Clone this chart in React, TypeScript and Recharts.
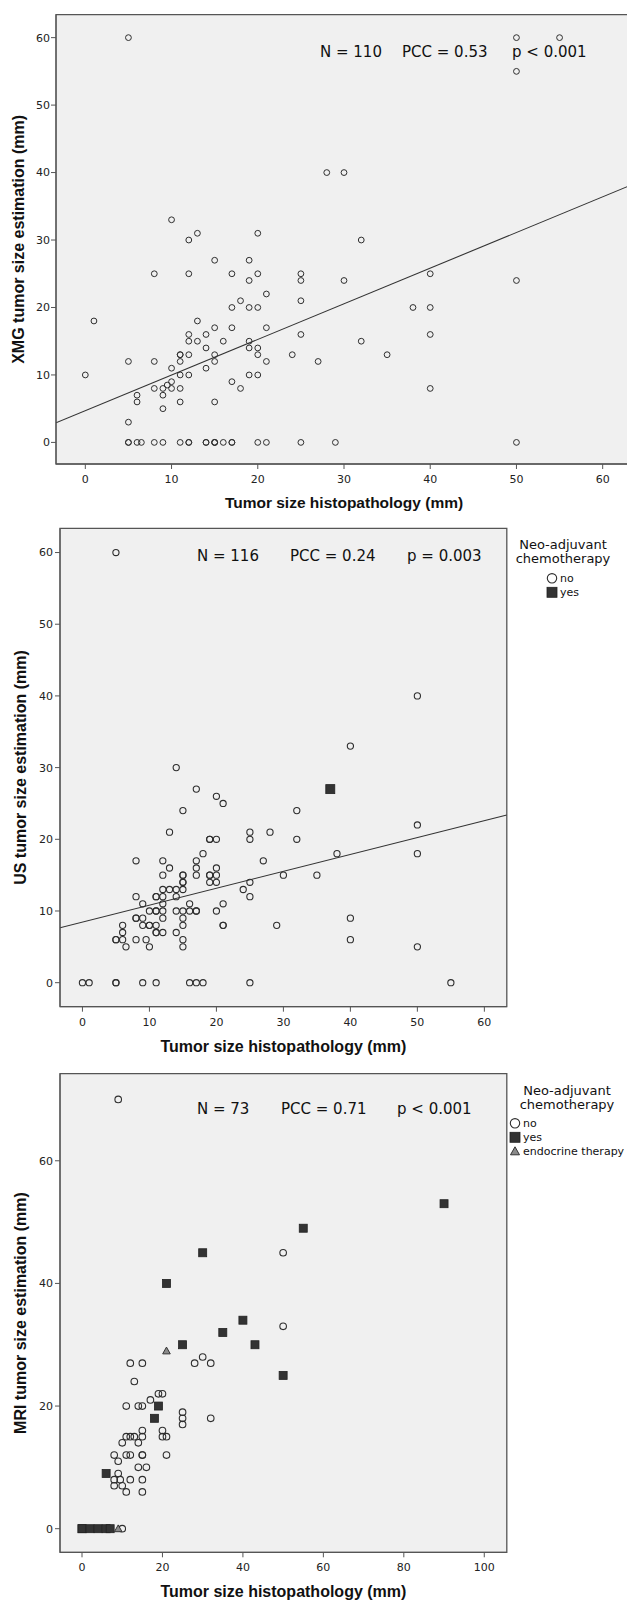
import React from 'react';
import { ScatterChart, Scatter, XAxis, YAxis, ReferenceArea, ReferenceLine } from 'recharts';

type Pt = [number, number];

// ---- panel 1: XMG vs histopathology ----
const xmgPoints: Pt[] = [
  [5, 60], [50, 60], [55, 60], [50, 55], [28, 40], [30, 40], [10, 33], [12, 30], [13, 31], [20, 31],
  [32, 30], [15, 27], [19, 27], [8, 25], [12, 25], [17, 25], [20, 25], [25, 25], [40, 25], [19, 24],
  [25, 24], [30, 24], [50, 24], [21, 22], [18, 21], [25, 21], [17, 20], [19, 20], [20, 20], [38, 20],
  [40, 20], [1, 18], [13, 18], [15, 17], [17, 17], [21, 17], [12, 16], [14, 16], [25, 16], [40, 16],
  [12, 15], [13, 15], [16, 15], [19, 15], [32, 15], [14, 14], [19, 14], [20, 14], [11, 13], [11, 13],
  [12, 13], [15, 13], [20, 13], [24, 13], [35, 13], [5, 12], [8, 12], [11, 12], [15, 12], [21, 12],
  [27, 12], [10, 11], [14, 11], [0, 10], [11, 10], [12, 10], [19, 10], [20, 10], [10, 9], [17, 9],
  [9.5, 8.5], [8, 8], [9, 8], [10, 8], [11, 8], [18, 8], [40, 8], [6, 7], [9, 7], [6, 6],
  [11, 6], [15, 6], [9, 5], [5, 3],
  [5, 0], [5, 0], [6, 0], [6.5, 0], [8, 0], [9, 0], [11, 0], [12, 0], [12, 0], [14, 0],
  [14, 0], [15, 0], [15, 0], [15, 0], [16, 0], [17, 0], [17, 0], [20, 0], [21, 0], [25, 0],
  [29, 0], [50, 0],
];
const xmgFit: Pt[] = [[-3.4, 2.9], [63.4, 38.2]];
const xmgTicks = [0, 10, 20, 30, 40, 50, 60];
const xmgStats = ['N = 110', 'PCC = 0.53', 'p < 0.001'];

// ---- panel 2: US vs histopathology ----
const usNo: Pt[] = [
  [5, 60], [50, 40], [40, 33], [14, 30], [17, 27], [20, 26], [21, 25], [15, 24], [32, 24], [13, 21],
  [25, 21], [28, 21], [19, 20], [19, 20], [20, 20], [25, 20], [32, 20], [50, 22], [18, 18], [38, 18],
  [50, 18], [8, 17], [12, 17], [17, 17], [27, 17], [13, 16], [17, 16], [20, 16], [12, 15], [15, 15],
  [15, 15], [17, 15], [19, 15], [19, 15], [20, 15], [30, 15], [35, 15], [15, 14], [15, 14], [19, 14],
  [20, 14], [25, 14], [12, 13], [13, 13], [14, 13], [15, 13], [24, 13], [8, 12], [11, 12], [11, 12],
  [12, 12], [14, 12], [25, 12], [9, 11], [12, 11], [16, 11], [21, 11], [10, 10], [11, 10], [11, 10],
  [12, 10], [14, 10], [15, 10], [16, 10], [17, 10], [17, 10], [20, 10], [8, 9], [8, 9], [9, 9],
  [12, 9], [15, 9], [40, 9], [6, 8], [9, 8], [10, 8], [10, 8], [11, 8], [15, 8], [21, 8],
  [21, 8], [29, 8], [6, 7], [11, 7], [11, 7], [12, 7], [14, 7], [5, 6], [5, 6], [6, 6],
  [8, 6], [9.5, 6], [15, 6], [40, 6], [6.5, 5], [10, 5], [15, 5], [50, 5],
  [0, 0], [1, 0], [5, 0], [5, 0], [9, 0], [11, 0], [16, 0], [17, 0], [18, 0], [25, 0], [55, 0],
];
const usYes: Pt[] = [[37, 27]];
const usFit: Pt[] = [[-3.35, 7.67], [63.35, 23.4]];
const usTicks = [0, 10, 20, 30, 40, 50, 60];
const usStats = ['N = 116', 'PCC = 0.24', 'p = 0.003'];

// ---- panel 3: MRI vs histopathology ----
const mriNo: Pt[] = [
  [9, 70], [50, 45], [50, 33], [12, 27], [15, 27], [28, 27], [30, 28], [32, 27], [13, 24], [19, 22],
  [20, 22], [17, 21], [11, 20], [14, 20], [15, 20], [25, 19], [25, 18], [25, 17], [32, 18], [15, 16],
  [20, 16], [11, 15], [12, 15], [13, 15], [15, 15], [20, 15], [21, 15], [10, 14], [14, 14], [8, 12],
  [11, 12], [12, 12], [15, 12], [15, 12], [21, 12], [9, 11], [14, 10], [16, 10], [9, 9], [8, 8],
  [9.5, 8], [12, 8], [15, 8], [8, 7], [10, 7], [11, 6], [15, 6], [10, 0],
];
const mriYes: Pt[] = [
  [90, 53], [55, 49], [30, 45], [21, 40], [40, 34], [35, 32], [25, 30], [43, 30], [50, 25], [19, 20],
  [18, 18], [6, 9], [0, 0], [0, 0], [2, 0], [4, 0], [6, 0], [7, 0],
];
const mriEndo: Pt[] = [[21, 29], [9, 0]];
const mriXTicks = [0, 20, 40, 60, 80, 100];
const mriYTicks = [0, 20, 40, 60];
const mriStats = ['N = 73', 'PCC = 0.71', 'p < 0.001'];

const legendTitle = ['Neo-adjuvant', 'chemotherapy'];
const usLegend = ['no', 'yes'];
const mriLegend = ['no', 'yes', 'endocrine therapy'];

const sans = "'DejaVu Sans', sans-serif";
const boldFont = "'Liberation Sans', Arial, sans-serif";
const INK = '#2e2e2e';

const rows = (pts: Pt[]) => pts.map(([x, y]) => ({ x, y }));

const ring = (r: number, w: number) => (p: any) => (
  <circle cx={p.cx} cy={p.cy} r={r} fill="none" stroke={INK} strokeWidth={w} />
);
const box = (s: number) => (p: any) => (
  <rect x={p.cx - s / 2} y={p.cy - s / 2} width={s} height={s} fill="#333" stroke="#222" strokeWidth={0.8} />
);
const tri = (p: any) => (
  <polygon
    points={`${p.cx},${p.cy - 3.8} ${p.cx + 3.8},${p.cy + 3} ${p.cx - 3.8},${p.cy + 3}`}
    fill="#8a8a8a"
    stroke="#333"
    strokeWidth={1}
  />
);

function yTitle(text: string, cx: number, fallbackCy: number) {
  return {
    content: (p: any) => {
      const vb = p && p.viewBox ? p.viewBox : null;
      const cy = vb && vb.height ? vb.y + vb.height / 2 : fallbackCy;
      return (
        <text
          x={cx}
          y={cy}
          transform={`rotate(-90 ${cx} ${cy})`}
          textAnchor="middle"
          dominantBaseline="central"
          fontFamily={boldFont}
          fontWeight="bold"
          fontSize={16}
          fill="#111"
        >
          {text}
        </text>
      );
    },
  };
}

interface Series {
  name: string;
  data: Pt[];
  shape: any;
}

interface PanelProps {
  top: number;
  width: number;
  height: number;
  plotTop: number;
  plotRight: number;
  yAxisW: number;
  xAxisH: number;
  xDomain: [number, number];
  yDomain: [number, number];
  xTicks: number[];
  yTicks: number[];
  xTitle: string;
  xTitleOffset: number;
  titleSize: number;
  yTitleText: string;
  yTitleX: number;
  tickGap: number;
  series: Series[];
  fit?: Pt[];
}

function Panel(p: PanelProps) {
  const plotCy = p.plotTop + (p.height - p.plotTop - p.xAxisH) / 2;
  return (
    <div style={{ position: 'absolute', left: 0, top: p.top }}>
      <ScatterChart
        width={p.width}
        height={p.height}
        margin={{ top: p.plotTop, right: p.plotRight, bottom: 0, left: 0 }}
      >
        <ReferenceArea
          x1={p.xDomain[0]}
          x2={p.xDomain[1]}
          y1={p.yDomain[0]}
          y2={p.yDomain[1]}
          fill="#f0f0f0"
          fillOpacity={1}
          stroke="#555"
          strokeWidth={1.3}
          ifOverflow="visible"
        />
        <XAxis
          type="number"
          dataKey="x"
          domain={p.xDomain}
          ticks={p.xTicks}
          interval={0}
          allowDataOverflow
          height={p.xAxisH}
          tickSize={5}
          tickMargin={6}
          stroke="#555"
          tick={{ fontSize: 11, fill: '#222', fontFamily: sans }}
          label={{
            value: p.xTitle,
            position: 'insideBottom',
            offset: p.xTitleOffset,
            fontSize: p.titleSize,
            fontWeight: 'bold',
            fontFamily: boldFont,
            fill: '#111',
          }}
        />
        <YAxis
          type="number"
          dataKey="y"
          domain={p.yDomain}
          ticks={p.yTicks}
          interval={0}
          allowDataOverflow
          width={p.yAxisW}
          tickSize={5}
          tickMargin={p.tickGap}
          stroke="#555"
          tick={{ fontSize: 11, fill: '#222', fontFamily: sans }}
          label={yTitle(p.yTitleText, p.yTitleX, plotCy)}
        />
        {p.fit && (
          <ReferenceLine
            segment={[
              { x: p.fit[0][0], y: p.fit[0][1] },
              { x: p.fit[1][0], y: p.fit[1][1] },
            ]}
            stroke="#333"
            strokeWidth={1.1}
            ifOverflow="hidden"
          />
        )}
        {p.series.map((s) => (
          <Scatter key={s.name} name={s.name} data={rows(s.data)} shape={s.shape} isAnimationActive={false} />
        ))}
      </ScatterChart>
    </div>
  );
}

function Stats({ items, xs, y }: { items: string[]; xs: number[]; y: number }) {
  return (
    <g>
      {items.map((t, i) => (
        <text key={t} x={xs[i]} y={y} dominantBaseline="central" fontFamily={sans} fontSize={15} fill="#111">
          {t}
        </text>
      ))}
    </g>
  );
}

function Legend({ cx, titleY, markX, firstY, items }: { cx: number; titleY: number; markX: number; firstY: number; items: string[] }) {
  const marks = [
    (x: number, y: number) => <circle cx={x} cy={y} r={4.7} fill="none" stroke={INK} strokeWidth={1.1} />,
    (x: number, y: number) => <rect x={x - 5} y={y - 5} width={10} height={10} fill="#333" stroke="#222" strokeWidth={0.8} />,
    (x: number, y: number) => (
      <polygon points={`${x},${y - 4.5} ${x + 4.5},${y + 3.5} ${x - 4.5},${y + 3.5}`} fill="#8a8a8a" stroke="#333" strokeWidth={1} />
    ),
  ];
  return (
    <g>
      {legendTitle.map((t, i) => (
        <text key={t} x={cx} y={titleY + i * 14} textAnchor="middle" dominantBaseline="central" fontFamily={sans} fontSize={13} fill="#111">
          {t}
        </text>
      ))}
      {items.map((t, i) => (
        <g key={t}>
          {marks[i](markX, firstY + i * 14)}
          <text x={markX + 8} y={firstY + i * 14} dominantBaseline="central" fontFamily={sans} fontSize={11} fill="#111">
            {t}
          </text>
        </g>
      ))}
    </g>
  );
}

export default function App() {
  return (
    <div
      style={{
        position: 'absolute',
        left: 0,
        top: 0,
        width: 627,
        height: 1600,
        overflow: 'hidden',
        background: '#fff',
      }}
    >
      <Panel
        top={0}
        width={632}
        height={520}
        plotTop={14.7}
        plotRight={0}
        yAxisW={56}
        xAxisH={56}
        xDomain={[-3.4, 63.4]}
        yDomain={[-3.2, 63.4]}
        xTicks={xmgTicks}
        yTicks={xmgTicks}
        xTitle="Tumor size histopathology (mm)"
        xTitleOffset={11.6}
        titleSize={15.5}
        yTitleText="XMG tumor size estimation (mm)"
        yTitleX={18.5}
        tickGap={1}
        series={[{ name: 'XMG', data: xmgPoints, shape: ring(2.9, 1) }]}
        fit={xmgFit}
      />
      <Panel
        top={520}
        width={627}
        height={540}
        plotTop={8.3}
        plotRight={120.2}
        yAxisW={60}
        xAxisH={53.3}
        xDomain={[-3.35, 63.35]}
        yDomain={[-3.35, 63.38]}
        xTicks={usTicks}
        yTicks={usTicks}
        xTitle="Tumor size histopathology (mm)"
        xTitleOffset={7.6}
        titleSize={16}
        yTitleText="US tumor size estimation (mm)"
        yTitleX={20.5}
        tickGap={2}
        series={[
          { name: 'no', data: usNo, shape: ring(3.1, 1.1) },
          { name: 'yes', data: usYes, shape: box(9) },
        ]}
        fit={usFit}
      />
      <Panel
        top={1060}
        width={627}
        height={540}
        plotTop={13.7}
        plotRight={120.2}
        yAxisW={60}
        xAxisH={47.7}
        xDomain={[-5.47, 105.6]}
        yDomain={[-3.85, 74.2]}
        xTicks={mriXTicks}
        yTicks={mriYTicks}
        xTitle="Tumor size histopathology (mm)"
        xTitleOffset={2.6}
        titleSize={16}
        yTitleText="MRI tumor size estimation (mm)"
        yTitleX={20.5}
        tickGap={2}
        series={[
          { name: 'no', data: mriNo, shape: ring(3.3, 1.1) },
          { name: 'yes', data: mriYes, shape: box(8) },
          { name: 'endocrine therapy', data: mriEndo, shape: tri },
        ]}
      />
      <svg width={627} height={1600} style={{ position: 'absolute', left: 0, top: 0, pointerEvents: 'none' }}>
        <Stats items={xmgStats} xs={[320, 402, 512]} y={52.3} />
        <Stats items={usStats} xs={[197, 290, 407]} y={556} />
        <Stats items={mriStats} xs={[197, 281, 397]} y={1109} />
        <Legend cx={563} titleY={544} markX={552} firstY={578.3} items={usLegend} />
        <Legend cx={567} titleY={1090} markX={515} firstY={1123.3} items={mriLegend} />
      </svg>
    </div>
  );
}
